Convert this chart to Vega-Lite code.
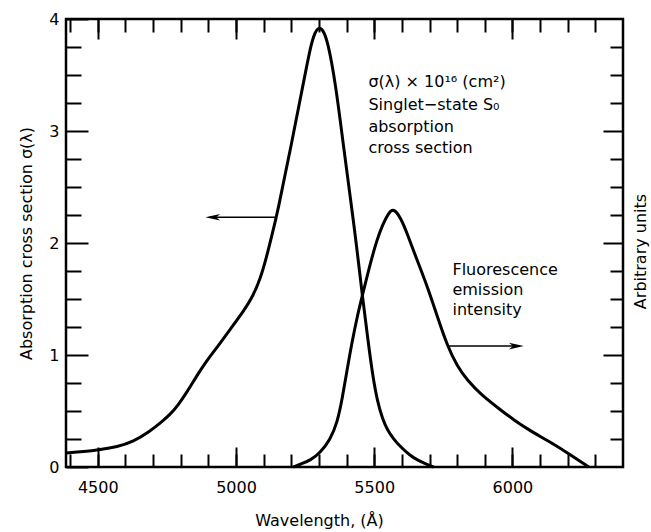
{
  "$schema": "https://vega.github.io/schema/vega-lite/v6.json",
  "width": 557,
  "height": 448,
  "autosize": "none",
  "padding": {"left": 66, "top": 19, "right": 28, "bottom": 65},
  "background": "white",
  "config": {
    "view": {"stroke": "black", "strokeWidth": 2.5},
    "axis": {
      "grid": false, "domain": false, "tickColor": "black", "tickWidth": 2,
      "labelFont": "DejaVu Sans", "labelFontSize": 16, "labelColor": "black",
      "titleFont": "DejaVu Sans", "titleFontSize": 16, "titleFontWeight": "normal", "titleColor": "black",
      "labelFlush": false
    }
  },
  "datasets": {
    "curves": [
      {"s": "abs", "x": 4385, "y": 0.125}, {"s": "abs", "x": 4450, "y": 0.137}, {"s": "abs", "x": 4508, "y": 0.155},
      {"s": "abs", "x": 4570, "y": 0.18}, {"s": "abs", "x": 4628, "y": 0.225}, {"s": "abs", "x": 4689, "y": 0.32},
      {"s": "abs", "x": 4730, "y": 0.40}, {"s": "abs", "x": 4762, "y": 0.47}, {"s": "abs", "x": 4790, "y": 0.55},
      {"s": "abs", "x": 4820, "y": 0.66}, {"s": "abs", "x": 4850, "y": 0.78}, {"s": "abs", "x": 4870, "y": 0.86},
      {"s": "abs", "x": 4900, "y": 0.97}, {"s": "abs", "x": 4932, "y": 1.07}, {"s": "abs", "x": 4979, "y": 1.23},
      {"s": "abs", "x": 5030, "y": 1.40}, {"s": "abs", "x": 5060, "y": 1.52}, {"s": "abs", "x": 5088, "y": 1.68},
      {"s": "abs", "x": 5110, "y": 1.87}, {"s": "abs", "x": 5130, "y": 2.07}, {"s": "abs", "x": 5150, "y": 2.27},
      {"s": "abs", "x": 5197, "y": 2.84}, {"s": "abs", "x": 5244, "y": 3.43}, {"s": "abs", "x": 5269, "y": 3.75},
      {"s": "abs", "x": 5285, "y": 3.88}, {"s": "abs", "x": 5300, "y": 3.93}, {"s": "abs", "x": 5315, "y": 3.90},
      {"s": "abs", "x": 5331, "y": 3.81}, {"s": "abs", "x": 5360, "y": 3.43}, {"s": "abs", "x": 5389, "y": 2.86},
      {"s": "abs", "x": 5414, "y": 2.40}, {"s": "abs", "x": 5436, "y": 1.98}, {"s": "abs", "x": 5457, "y": 1.53},
      {"s": "abs", "x": 5476, "y": 1.16}, {"s": "abs", "x": 5494, "y": 0.82}, {"s": "abs", "x": 5512, "y": 0.58},
      {"s": "abs", "x": 5530, "y": 0.43}, {"s": "abs", "x": 5548, "y": 0.33}, {"s": "abs", "x": 5570, "y": 0.25},
      {"s": "abs", "x": 5595, "y": 0.18}, {"s": "abs", "x": 5631, "y": 0.10}, {"s": "abs", "x": 5657, "y": 0.06},
      {"s": "abs", "x": 5690, "y": 0.025}, {"s": "abs", "x": 5715, "y": 0},
      {"s": "fl", "x": 5207, "y": 0}, {"s": "fl", "x": 5233, "y": 0.025}, {"s": "fl", "x": 5270, "y": 0.06},
      {"s": "fl", "x": 5305, "y": 0.13}, {"s": "fl", "x": 5340, "y": 0.24}, {"s": "fl", "x": 5367, "y": 0.40},
      {"s": "fl", "x": 5385, "y": 0.62}, {"s": "fl", "x": 5400, "y": 0.84}, {"s": "fl", "x": 5420, "y": 1.12},
      {"s": "fl", "x": 5440, "y": 1.36}, {"s": "fl", "x": 5457, "y": 1.53}, {"s": "fl", "x": 5486, "y": 1.82},
      {"s": "fl", "x": 5510, "y": 2.03}, {"s": "fl", "x": 5530, "y": 2.16}, {"s": "fl", "x": 5552, "y": 2.27},
      {"s": "fl", "x": 5570, "y": 2.31}, {"s": "fl", "x": 5595, "y": 2.23}, {"s": "fl", "x": 5620, "y": 2.08},
      {"s": "fl", "x": 5642, "y": 1.93}, {"s": "fl", "x": 5693, "y": 1.61}, {"s": "fl", "x": 5730, "y": 1.33},
      {"s": "fl", "x": 5765, "y": 1.08}, {"s": "fl", "x": 5800, "y": 0.90}, {"s": "fl", "x": 5838, "y": 0.77},
      {"s": "fl", "x": 5885, "y": 0.65}, {"s": "fl", "x": 5957, "y": 0.51}, {"s": "fl", "x": 6005, "y": 0.42},
      {"s": "fl", "x": 6060, "y": 0.33}, {"s": "fl", "x": 6128, "y": 0.235}, {"s": "fl", "x": 6204, "y": 0.12},
      {"s": "fl", "x": 6276, "y": 0}
    ],
    "labels": [
      {"x": 5479, "y": 3.393, "t": "σ(λ) × 10¹⁶ (cm²)"},
      {"x": 5479, "y": 3.188, "t": "Singlet−state S₀"},
      {"x": 5479, "y": 2.991, "t": "absorption"},
      {"x": 5479, "y": 2.804, "t": "cross section"},
      {"x": 5783, "y": 1.714, "t": "Fluorescence"},
      {"x": 5783, "y": 1.536, "t": "emission"},
      {"x": 5783, "y": 1.357, "t": "intensity"}
    ],
    "arrows": [
      {"x": 5148, "x2": 4905, "y": 2.23},
      {"x": 5765, "x2": 6025, "y": 1.08}
    ],
    "heads": [
      {"x": 4916, "y": 2.23, "dir": "left"},
      {"x": 6014, "y": 1.08, "dir": "right"}
    ]
  },
  "resolve": {"axis": {"x": "independent", "y": "independent"}},
  "layer": [
    {
      "data": {"name": "curves"},
      "mark": {"type": "line", "color": "black", "strokeWidth": 3, "interpolate": "basis"},
      "encoding": {
        "x": {"field": "x", "type": "quantitative", "scale": {"domain": [4385, 6400], "nice": false, "zero": false},
              "axis": {"orient": "bottom", "values": [4400,4500,4600,4700,4800,4900,5000,5100,5200,5300,5400,5500,5600,5700,5800,5900,6000,6100,6200,6300], "labels": false, "tickSize": -13, "title": null}},
        "y": {"field": "y", "type": "quantitative", "scale": {"domain": [0, 4], "nice": false},
              "axis": {"orient": "left", "values": [0.25,0.5,0.75,1.25,1.5,1.75,2.25,2.5,2.75,3.25,3.5,3.75], "labels": false, "tickSize": -15, "title": null}},
        "detail": {"field": "s"}
      }
    },
    {
      "data": {"name": "labels"},
      "mark": {"type": "text", "align": "left", "baseline": "alphabetic", "font": "DejaVu Sans", "fontSize": 16, "color": "black"},
      "encoding": {
        "x": {"field": "x", "type": "quantitative",
              "axis": {"orient": "bottom", "values": [4500, 5000, 5500, 6000], "format": "d", "tickSize": -20, "labelPadding": 32, "title": "Wavelength, (Å)", "titlePadding": 17, "titleX": 253}},
        "y": {"field": "y", "type": "quantitative",
              "axis": {"orient": "left", "values": [0, 1, 2, 3, 4], "format": "d", "tickSize": -22, "labelPadding": 29, "title": "Absorption cross section  σ(λ)", "titlePadding": 14}},
        "text": {"field": "t"}
      }
    },
    {
      "data": {"name": "arrows"},
      "mark": {"type": "rule", "color": "black", "strokeWidth": 1.5},
      "encoding": {
        "x": {"field": "x", "type": "quantitative",
              "axis": {"orient": "top", "values": [4400,4500,4600,4700,4800,4900,5000,5100,5200,5300,5400,5500,5600,5700,5800,5900,6000,6100,6200,6300], "labels": false, "tickSize": -13, "title": null}},
        "x2": {"field": "x2"},
        "y": {"field": "y", "type": "quantitative",
              "axis": {"orient": "right", "values": [0.25,0.5,0.75,1.25,1.5,1.75,2.25,2.5,2.75,3.25,3.5,3.75], "labels": false, "tickSize": -13, "title": null}}
      }
    },
    {
      "data": {"name": "heads"},
      "mark": {"type": "point", "filled": true, "color": "black", "opacity": 1, "size": 220},
      "encoding": {
        "x": {"field": "x", "type": "quantitative",
              "axis": {"orient": "top", "values": [4500, 5000, 5500, 6000], "labels": false, "tickSize": -20, "title": null}},
        "y": {"field": "y", "type": "quantitative",
              "axis": {"orient": "right", "values": [1, 2, 3], "labels": false, "tickSize": -20, "title": "Arbitrary units", "titleAngle": 270, "titleBaseline": "top", "titlePadding": 8, "titleY": 232}},
        "shape": {"field": "dir", "type": "nominal", "legend": null,
                  "scale": {"domain": ["left", "right"], "range": ["M -1 0 L 1 -0.45 L 0.45 0 L 1 0.45 Z", "M 1 0 L -1 -0.45 L -0.45 0 L -1 0.45 Z"]}}
      }
    }
  ]
}
